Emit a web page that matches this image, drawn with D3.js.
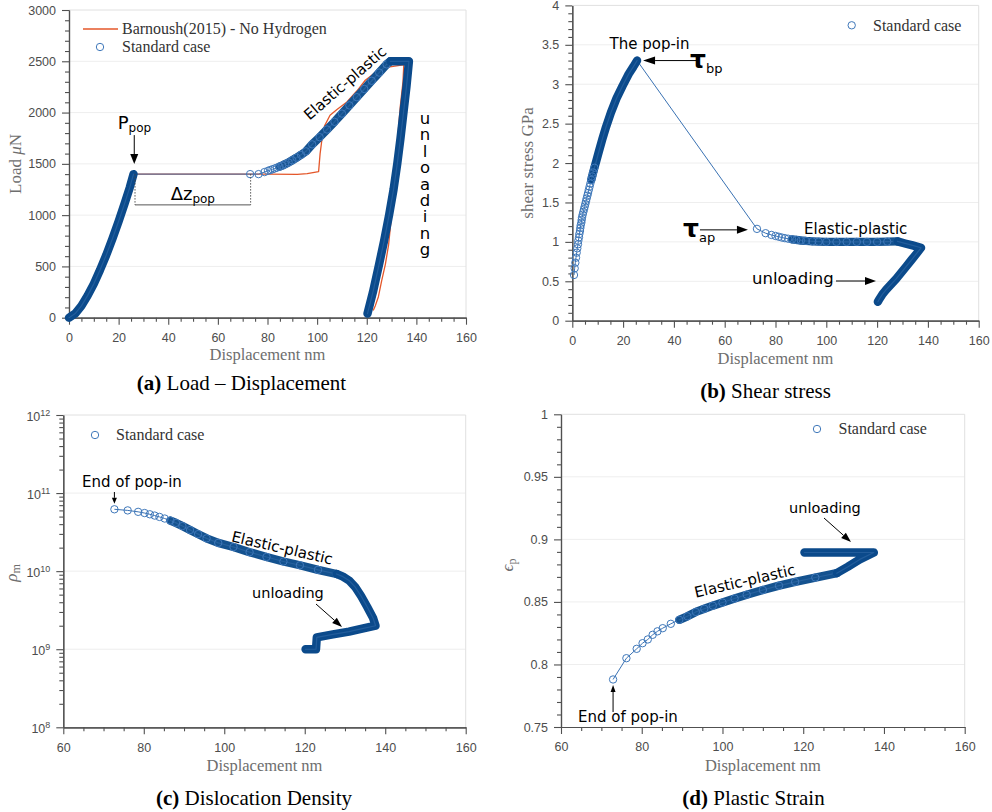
<!DOCTYPE html>
<html>
<head>
<meta charset="utf-8">
<script src="https://cdn.jsdelivr.net/npm/d3@7"></script>
<style>
  body { margin: 0; background: #fff; }
  svg { display: block; }
</style>
</head>
<body>
<svg id="fig" width="992" height="812"></svg>
<script>
// ---------------- data ----------------
// (a) Load – displacement, standard case (nm, µN)
const aLoadDisp = [0, 2.5, 5, 7.5, 10, 12.5, 15, 17.5, 20, 22.5, 24.5, 26];
const aLoadLoad = [0, 40, 115, 215, 330, 465, 610, 770, 940, 1120, 1270, 1400];
const aHardDisp = [73, 76.4, 78.8, 80.2, 81.1, 82.0, 82.9, 83.8, 84.8, 85.9, 87.1, 88.5, 90, 91.7, 93.5, 95.5, 98, 101, 104, 107, 110, 113, 116, 119, 122, 125, 128, 129.5];
const aHardLoad = [1400, 1400, 1420, 1432, 1440, 1447, 1455, 1463, 1472, 1483, 1497, 1514, 1535, 1560, 1588, 1622, 1690, 1760, 1835, 1910, 1990, 2070, 2150, 2230, 2310, 2390, 2470, 2500];
const aUnloadDisp = [129.5, 133, 137, 136, 134.8, 133.6, 132.3, 130.8, 129, 127, 124.8, 122.5, 120.3];
const aUnloadLoad = [2500, 2500, 2500, 2250, 2000, 1750, 1500, 1250, 1000, 750, 500, 250, 40];
// (a) Barnoush (2015), no hydrogen
const barnoushDisp = [0, 5, 10, 15, 20, 26, 50, 80, 92, 96, 100.6, 101.2, 101.9, 103, 105.2, 108, 112, 116, 119.4, 124, 128, 132, 134.5, 135, 134.6, 133.5, 132.3, 131, 129.8, 128.8, 127.5, 126, 124.7, 123.5, 122.6];
const barnoushLoad = [0, 115, 330, 610, 940, 1400, 1400, 1399, 1398, 1405, 1425, 1600, 1730, 1870, 1974, 2030, 2104, 2210, 2315, 2400, 2440, 2455, 2465, 2500, 2300, 2055, 1700, 1300, 950, 710, 520, 360, 205, 120, 70];

// (b) Shear stress (nm, GPa)
const bLoadDisp = [0.67, 0.93, 1.19, 1.46, 1.72, 1.98, 2.24, 2.37, 2.64, 2.77, 3.03, 3.16, 3.3, 3.56, 3.69, 3.82, 4.08, 4.34, 4.61, 4.87, 5.13, 5.39, 5.65, 5.92, 6.2, 6.5, 6.8, 7.1, 7.45, 7.8, 8.2, 8.7, 9.4, 10.5, 11.8, 13.3, 15.2, 17.4, 19.8, 22.2, 24.0, 25.5];
const bLoadStress = [0.58, 0.665, 0.736, 0.80, 0.863, 0.918, 0.969, 1.015, 1.058, 1.10, 1.138, 1.176, 1.21, 1.244, 1.278, 1.31, 1.345, 1.38, 1.414, 1.447, 1.48, 1.515, 1.55, 1.585, 1.62, 1.66, 1.70, 1.74, 1.785, 1.83, 1.88, 1.94, 2.02, 2.15, 2.30, 2.46, 2.64, 2.82, 2.98, 3.13, 3.22, 3.30];
const bHardDisp = [72.7, 76.1, 78.4, 80, 81.3, 82.5, 83.7, 85, 86.5, 88.2, 90, 92, 94.5, 97, 100, 104, 108, 112, 116, 120, 124, 128];
const bHardStress = [1.165, 1.11, 1.088, 1.075, 1.065, 1.055, 1.047, 1.04, 1.032, 1.025, 1.018, 1.012, 1.007, 1.003, 1.0, 1.0, 1.0, 1.0, 1.0, 1.0, 1.003, 1.006];
const bUnloadDisp = [128, 131, 134, 137.3, 135.5, 133.5, 131.5, 129.5, 127.5, 125.5, 123.5, 122, 120.8, 120.3];
const bUnloadStress = [1.006, 0.98, 0.955, 0.925, 0.85, 0.77, 0.69, 0.61, 0.53, 0.46, 0.39, 0.33, 0.27, 0.24];

// (c) Mobile dislocation density (nm, m^-2)
const cHardDisp = [72.7, 76.0, 78.6, 80.2, 81.5, 82.7, 83.9, 85.2, 86.6, 88.0, 89.6, 91.5, 93.5, 95.6, 98.5, 102.3, 106.3, 110.5, 114.7, 118.8, 123.3, 127.9];
const cHardRho = [6.2e10, 6.0e10, 5.75e10, 5.55e10, 5.35e10, 5.15e10, 4.95e10, 4.72e10, 4.45e10, 4.15e10, 3.78e10, 3.36e10, 2.98e10, 2.63e10, 2.3e10, 2.04e10, 1.75e10, 1.52e10, 1.33e10, 1.19e10, 1.04e10, 9.2e9];
const cUnloadDisp = [127.9, 129.5, 131, 132.5, 134, 135.5, 137, 137.6, 134, 131, 127, 123, 122.8, 120.2];
const cUnloadRho = [9.2e9, 8.5e9, 7.6e9, 6.3e9, 4.8e9, 3.5e9, 2.5e9, 2.0e9, 1.82e9, 1.68e9, 1.55e9, 1.42e9, 1.0e9, 1.0e9];

// (d) Plastic strain (nm, -)
const dHardDisp = [72.9, 76.2, 78.75, 80.2, 81.5, 82.7, 83.9, 85.2, 87.2, 89.3, 91.3, 93.4, 95.5, 97.6, 100, 103, 106, 110, 114, 118, 123, 128.3];
const dHardStrain = [0.788, 0.805, 0.8125, 0.817, 0.820, 0.8237, 0.8265, 0.829, 0.8325, 0.8357, 0.8385, 0.842, 0.8445, 0.847, 0.8495, 0.8527, 0.8558, 0.8595, 0.863, 0.866, 0.8695, 0.873];
const dUnloadDisp = [128.3, 131, 134, 137.5, 133, 128, 124, 120.3];
const dUnloadStrain = [0.873, 0.878, 0.884, 0.8895, 0.8895, 0.8895, 0.8895, 0.8895];

// tick values
const xTicksFull = [0, 20, 40, 60, 80, 100, 120, 140, 160];
const xTicksZoom = [60, 80, 100, 120, 140, 160];
const aYTicks = [0, 500, 1000, 1500, 2000, 2500, 3000];
const bYTicks = [0, 0.5, 1, 1.5, 2, 2.5, 3, 3.5, 4];
const cYTicks = [1e8, 1e9, 1e10, 1e11, 1e12];
const dYTicks = [0.75, 0.8, 0.85, 0.9, 0.95, 1];

// ---------------- styling ----------------
const C_EDGE = "#3f78ba";
const C_BAND = "#0b4a8b";
const C_BAND_EP = "#14528f";
const C_LINE = "#3a72b3";
const C_ORANGE = "#e4572a";
const C_AXIS = "#505050";
const MARK_R = 3.7;
const BAND_W = 8.4;
const SERIF = "'Liberation Serif','Times New Roman',serif";
const SANS = "'Liberation Sans',Arial,sans-serif";
const ANNOT = "'DejaVu Sans',Verdana,sans-serif";

const svg = d3.select("#fig");
const zip = (xs, ys) => xs.map((x, i) => [x, ys[i]]);

function stepTicks(lo, hi, step, majors) {
  return d3.range(Math.round((hi - lo) / step) + 1)
    .map(i => +(lo + i * step).toFixed(6))
    .filter(v => !majors.some(m => Math.abs(m - v) < 1e-9));
}
function logMinor(lo, hi) {
  const out = [];
  for (let e = Math.log10(lo); e < Math.log10(hi); e++)
    for (let k = 2; k <= 9; k++) out.push(k * Math.pow(10, e));
  return out;
}

function styleAxis(g) {
  g.select(".domain").attr("stroke", C_AXIS).attr("stroke-width", 1.2);
  g.selectAll(".tick line").attr("stroke", C_AXIS).attr("stroke-width", 1.1);
  g.selectAll(".tick text").attr("fill", "#4d4d4d").attr("font-family", SANS).attr("font-size", "12.5px");
}

function frame(p) {
  const g = svg.append("g");
  const [x0, x1] = p.x.range();
  const [y0, y1] = p.y.range();
  g.selectAll("line.grid").data(p.yMajor.filter(v => Math.abs(p.y(v) - y0) > 1 && Math.abs(p.y(v) - y1) > 1))
    .join("line").attr("class", "grid")
    .attr("x1", x0).attr("x2", x1).attr("y1", d => p.y(d)).attr("y2", d => p.y(d))
    .attr("stroke", "#eeeeee").attr("stroke-width", 1);
  g.append("path").attr("d", `M${x0},${y1}H${x1}V${y0}`)
    .attr("fill", "none").attr("stroke", "#e0e0e0").attr("stroke-width", 1);

  const xm = g.append("g").attr("transform", `translate(0,${y0})`)
    .call(d3.axisBottom(p.x).tickValues(p.xMinor).tickSize(4).tickSizeOuter(0).tickFormat(""));
  styleAxis(xm);
  const xM = g.append("g").attr("transform", `translate(0,${y0})`)
    .call(d3.axisBottom(p.x).tickValues(p.xMajor).tickSize(7).tickSizeOuter(0).tickPadding(8.5).tickFormat(d3.format("d")));
  styleAxis(xM);

  const ym = g.append("g").attr("transform", `translate(${x0},0)`)
    .call(d3.axisLeft(p.y).tickValues(p.yMinor).tickSize(4).tickSizeOuter(0).tickFormat(""));
  styleAxis(ym);
  const yM = g.append("g").attr("transform", `translate(${x0},0)`)
    .call(d3.axisLeft(p.y).tickValues(p.yMajor).tickSize(7).tickSizeOuter(0).tickPadding(6)
      .tickFormat(p.log ? (() => "") : p.yFmt));
  styleAxis(yM);
  if (p.log) {
    yM.selectAll(".tick text").each(function (d) {
      const t = d3.select(this).attr("dy", "0.42em");
      t.append("tspan").text("10");
      t.append("tspan").attr("dy", "-0.55em").attr("font-size", "9px").text(Math.round(Math.log10(d)));
    });
  }

  // axis titles
  g.append("text").attr("x", (x0 + x1) / 2).attr("y", p.xTitleY)
    .attr("text-anchor", "middle").attr("font-family", SERIF).attr("font-size", "16.5px").attr("fill", "#6e6e6e")
    .text("Displacement nm");
  const yt = g.append("text").attr("transform", `translate(${p.yTitleX},${p.yTitleY}) rotate(-90)`)
    .attr("text-anchor", "middle").attr("font-family", SERIF).attr("font-size", "17px").attr("fill", "#6e6e6e");
  p.yTitle(yt);
  return g;
}

function thin(g, data, sx, sy, color, w) {
  g.append("path").datum(data)
    .attr("d", d3.line().x(d => sx(d[0])).y(d => sy(d[1])))
    .attr("fill", "none").attr("stroke", color).attr("stroke-width", w)
    .attr("stroke-linejoin", "round");
}
function band(g, data, sx, sy, color) {
  const ln = d3.line().x(d => sx(d[0])).y(d => sy(d[1]));
  g.append("path").datum(data).attr("d", ln)
    .attr("fill", "none").attr("stroke", color).attr("stroke-width", BAND_W)
    .attr("stroke-linejoin", "round").attr("stroke-linecap", "round");
  g.append("path").datum(data).attr("d", ln)
    .attr("fill", "none").attr("stroke", "#3d74b0").attr("stroke-width", 1.2).attr("opacity", 0.45)
    .attr("stroke-linejoin", "round").attr("stroke-linecap", "round");
}
function markers(g, data, sx, sy) {
  g.append("g").selectAll("circle").data(data).join("circle")
    .attr("cx", d => sx(d[0])).attr("cy", d => sy(d[1])).attr("r", MARK_R)
    .attr("fill", "none").attr("stroke", C_EDGE).attr("stroke-width", 1);
}
function arrow(g, x1, y1, x2, y2, len, wid) {
  const a = Math.atan2(y2 - y1, x2 - x1);
  const bx = x2 - len * Math.cos(a), by = y2 - len * Math.sin(a);
  const px = -Math.sin(a) * wid / 2, py = Math.cos(a) * wid / 2;
  g.append("line").attr("x1", x1).attr("y1", y1).attr("x2", bx).attr("y2", by)
    .attr("stroke", "#000").attr("stroke-width", 1);
  g.append("path").attr("d", `M${x2},${y2}L${bx + px},${by + py}L${bx - px},${by - py}Z`).attr("fill", "#000");
}
function label(g, x, y, txt, size, extra) {
  const t = g.append("text").attr("x", x).attr("y", y)
    .attr("font-family", ANNOT).attr("font-size", size + "px").attr("fill", "#000").text(txt);
  if (extra) extra(t);
  return t;
}
function legendMarker(g, cx, cy, tx, ty, txt) {
  g.append("circle").attr("cx", cx).attr("cy", cy).attr("r", MARK_R)
    .attr("fill", "none").attr("stroke", C_EDGE).attr("stroke-width", 1);
  g.append("text").attr("x", tx).attr("y", ty).attr("font-family", SERIF).attr("font-size", "16px")
    .attr("fill", "#333").text(txt);
}
function caption(x, y, tag, txt) {
  const t = svg.append("text").attr("x", x).attr("y", y).attr("text-anchor", "middle")
    .attr("font-family", SERIF).attr("font-size", "21px").attr("fill", "#000");
  t.append("tspan").attr("font-weight", "bold").text(tag);
  t.append("tspan").text(" " + txt);
}

// ---------------- (a) Load – Displacement ----------------
{
  const x = d3.scaleLinear().domain([0, 160]).range([69, 466]);
  const y = d3.scaleLinear().domain([0, 3000]).range([317.7, 10]);
  const g = frame({
    x, y, xMajor: xTicksFull, xMinor: stepTicks(0, 160, 5, xTicksFull),
    yMajor: aYTicks, yMinor: stepTicks(0, 3000, 100, aYTicks), yFmt: d3.format("d"),
    xTitleY: 360, yTitleX: 21, yTitleY: 164,
    yTitle: t => { t.append("tspan").text("Load "); t.append("tspan").attr("font-style", "italic").text("μ"); t.append("tspan").text("N"); }
  });
  const load = zip(aLoadDisp, aLoadLoad), hard = zip(aHardDisp, aHardLoad), unload = zip(aUnloadDisp, aUnloadLoad);

  thin(g, zip(barnoushDisp, barnoushLoad), x, y, C_ORANGE, 1.3);
  thin(g, load.concat(hard, unload), x, y, C_LINE, 1);
  band(g, load, x, y, C_BAND);
  band(g, hard.filter(d => d[0] >= 84.8), x, y, C_BAND_EP);
  markers(g, hard, x, y);
  band(g, unload, x, y, C_BAND);

  // pop-in annotation
  arrow(g, x(26.3), y(1400) - 39, x(26.3), y(1400) - 10, 10, 8);
  label(g, x(26.3) - 16.5, 128.5, "P", 18).append("tspan").attr("font-size", "12px").attr("dy", "3").text("pop");
  g.selectAll("line.dz").data([26.6, 73.2]).join("line").attr("class", "dz")
    .attr("x1", d => x(d)).attr("x2", d => x(d)).attr("y1", y(1400)).attr("y2", y(1100))
    .attr("stroke", "#444").attr("stroke-width", 0.9).attr("stroke-dasharray", "1.5,1.5");
  g.append("line").attr("x1", x(26.6)).attr("x2", x(73.2)).attr("y1", y(1100)).attr("y2", y(1100))
    .attr("stroke", "#555").attr("stroke-width", 1);
  label(g, (x(26.6) + x(73.2)) / 2, y(1100) - 5, "Δz", 18, t => t.attr("text-anchor", "middle"))
    .append("tspan").attr("font-size", "12px").attr("dy", "3").text("pop");

  label(g, x(112.6), y(2250), "Elastic-plastic", 15,
    t => t.attr("text-anchor", "middle").attr("transform", `rotate(-41,${x(112.6)},${y(2250)})`));
  // stacked vertical word
  g.append("text").attr("x", x(143.5)).attr("y", 109)
    .attr("font-family", ANNOT).attr("font-size", "16.5px")
    .style("writing-mode", "vertical-rl").style("text-orientation", "upright")
    .style("letter-spacing", "-2.6px")
    .text("unloading");

  // legend
  g.append("line").attr("x1", 83).attr("x2", 118).attr("y1", 29).attr("y2", 29).attr("stroke", C_ORANGE).attr("stroke-width", 1.3);
  g.append("text").attr("x", 122).attr("y", 33.5).attr("font-family", SERIF).attr("font-size", "16px")
    .attr("fill", "#333").text("Barnoush(2015) - No Hydrogen");
  legendMarker(g, 100, 47, 122, 51.5, "Standard case");
}

// ---------------- (b) Shear stress ----------------
{
  const x = d3.scaleLinear().domain([0, 160]).range([572.3, 978.7]);
  const y = d3.scaleLinear().domain([0, 4]).range([320.7, 5.4]);
  const g = frame({
    x, y, xMajor: xTicksFull, xMinor: stepTicks(0, 160, 5, xTicksFull),
    yMajor: bYTicks, yMinor: stepTicks(0, 4, 0.1, bYTicks), yFmt: d3.format("~g"),
    xTitleY: 364, yTitleX: 533, yTitleY: 163,
    yTitle: t => t.text("shear stress GPa")
  });
  const load = zip(bLoadDisp, bLoadStress), hard = zip(bHardDisp, bHardStress), unload = zip(bUnloadDisp, bUnloadStress);

  thin(g, load.concat(hard, unload), x, y, C_LINE, 1);
  band(g, load.filter(d => d[0] >= 7.45), x, y, C_BAND);
  markers(g, load.filter(d => d[0] < 9), x, y);
  band(g, hard.filter(d => d[0] >= 86.5), x, y, C_BAND_EP);
  markers(g, hard, x, y);
  band(g, unload, x, y, C_BAND);

  label(g, x(30.4), 49, "The pop-in", 15, t => t.attr("text-anchor", "middle"));
  arrow(g, x(25.5) + 62, y(3.3), x(25.5) + 6, y(3.3), 12, 8);
  label(g, x(25.5) + 53, y(3.3) + 7, "τ", 25, t => t.attr("font-weight", "bold"))
    .append("tspan").attr("font-size", "13px").attr("font-weight", "normal").attr("dy", "5").text("bp");

  arrow(g, x(72.7) - 57, y(1.165) + 1, x(72.7) - 9, y(1.165) + 1, 11, 8);
  label(g, x(72.7) - 74, y(1.165) + 8, "τ", 25, t => t.attr("font-weight", "bold"))
    .append("tspan").attr("font-size", "13px").attr("font-weight", "normal").attr("dy", "5").text("ap");

  label(g, 804, 233.5, "Elastic-plastic", 15);
  label(g, 752, 284, "unloading", 16.5);
  arrow(g, 836, 281, 876, 281, 11, 8);

  legendMarker(g, 851.7, 25.3, 873, 30.5, "Standard case");
}

// ---------------- (c) Dislocation Density ----------------
{
  const x = d3.scaleLinear().domain([60, 160]).range([63.3, 465.7]);
  const y = d3.scaleLog().domain([1e8, 1e12]).range([727.3, 415]);
  const g = frame({
    x, y, xMajor: xTicksZoom, xMinor: stepTicks(60, 160, 5, xTicksZoom),
    yMajor: cYTicks, yMinor: logMinor(1e8, 1e12), log: true,
    xTitleY: 771, yTitleX: 17, yTitleY: 573,
    yTitle: t => { t.append("tspan").attr("font-style", "italic").text("ρ"); t.append("tspan").attr("font-size", "12px").attr("dy", "3").text("m"); }
  });
  const hard = zip(cHardDisp, cHardRho), unload = zip(cUnloadDisp, cUnloadRho);

  thin(g, hard.concat(unload), x, y, C_LINE, 1);
  band(g, hard.filter(d => d[0] >= 86.6), x, y, C_BAND_EP);
  markers(g, hard, x, y);
  band(g, unload, x, y, C_BAND);

  label(g, 82, 487, "End of pop-in", 15);
  arrow(g, x(72.7), 492, x(72.7), y(6.2e10) - 5.5, 6, 5);
  label(g, 281, 553, "Elastic-plastic", 15,
    t => t.attr("text-anchor", "middle").attr("transform", "rotate(13,281,553)"));
  label(g, 252, 598, "unloading", 14.5);
  arrow(g, 316, 604, 342, 627, 10, 7);

  legendMarker(g, 95, 435, 116, 439.5, "Standard case");
}

// ---------------- (d) Plastic Strain ----------------
{
  const x = d3.scaleLinear().domain([60, 160]).range([561, 964.7]);
  const y = d3.scaleLinear().domain([0.75, 1]).range([727, 414.3]);
  const g = frame({
    x, y, xMajor: xTicksZoom, xMinor: stepTicks(60, 160, 5, xTicksZoom),
    yMajor: dYTicks, yMinor: stepTicks(0.75, 1, 0.01, dYTicks), yFmt: d3.format("~g"),
    xTitleY: 771, yTitleX: 513, yTitleY: 565,
    yTitle: t => { t.append("tspan").attr("font-style", "italic").text("ϵ"); t.append("tspan").attr("font-size", "12px").attr("dy", "3").text("p"); }
  });
  const hard = zip(dHardDisp, dHardStrain), unload = zip(dUnloadDisp, dUnloadStrain);

  thin(g, hard.concat(unload), x, y, C_LINE, 1);
  band(g, hard.filter(d => d[0] >= 89.3), x, y, C_BAND_EP);
  markers(g, hard, x, y);
  band(g, unload, x, y, C_BAND);

  label(g, 789, 513, "unloading", 14.5);
  arrow(g, 824, 518, 851, 542, 10, 7);
  label(g, 746, 586, "Elastic-plastic", 15,
    t => t.attr("text-anchor", "middle").attr("transform", "rotate(-13,746,586)"));
  label(g, 578, 722, "End of pop-in", 15);
  arrow(g, x(72.9), 712, x(72.9), y(0.788) + 5.5, 7, 5);

  legendMarker(g, 817, 429, 838.5, 433.5, "Standard case");
}

// ---------------- captions ----------------
caption(241.5, 390, "(a)", "Load – Displacement");
caption(765.5, 398, "(b)", "Shear stress");
caption(254, 805, "(c)", "Dislocation Density");
caption(753.5, 805, "(d)", "Plastic Strain");
</script>
</body>
</html>
